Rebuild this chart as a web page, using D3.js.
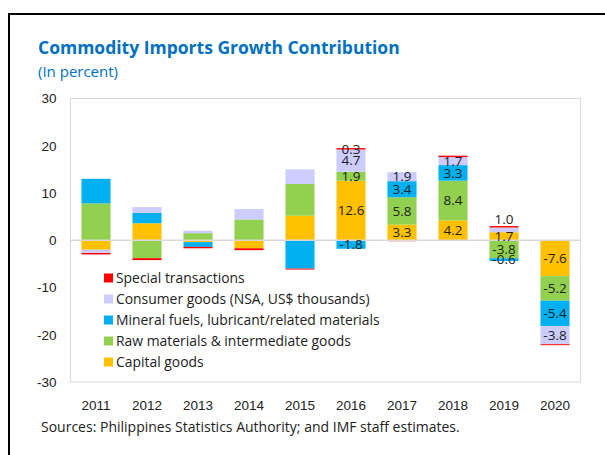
<!DOCTYPE html>
<html>
<head>
<meta charset="utf-8">
<script src="https://cdn.jsdelivr.net/npm/d3@7"></script>
<style>
  body { margin: 0; background: #fff; }
  svg { display: block; font-family: 'Open Sans', 'Noto Sans', sans-serif; }
</style>
</head>
<body>
<div id="chart"></div>
<script>
const years = ['2011', '2012', '2013', '2014', '2015', '2016', '2017', '2018', '2019', '2020']
const capitalGoods = [-2.0, 3.6, -0.4, -1.7, 5.2, 12.6, 3.3, 4.2, 1.7, -7.6]
const rawMaterials = [7.8, -3.8, 1.5, 4.4, 6.7, 1.9, 5.8, 8.4, -3.8, -5.2]
const mineralFuels = [5.2, 2.2, -1.0, 0.0, -6.0, -1.8, 3.4, 3.3, -0.6, -5.4]
const consumerGoods = [-0.7, 1.2, 0.5, 2.2, 3.1, 4.7, 1.9, 1.7, 1.0, -3.8]
const specialTrans = [-0.3, -0.4, -0.3, -0.4, -0.2, 0.3, -0.2, 0.3, 0.3, -0.2]
const yTicks = [-30, -20, -10, 0, 10, 20, 30]

const series = [
  { key: 'capital', name: 'Capital goods', values: capitalGoods, color: '#FFC000' },
  { key: 'raw', name: 'Raw materials & intermediate goods', values: rawMaterials, color: '#92D050' },
  { key: 'mineral', name: 'Mineral fuels, lubricant/related materials', values: mineralFuels, color: '#00B0F0' },
  { key: 'consumer', name: 'Consumer goods (NSA, US$ thousands)', values: consumerGoods, color: '#CCCCFF' },
  { key: 'special', name: 'Special transactions', values: specialTrans, color: '#FF0000' }
]

const rows = years.map((y, i) => {
  const r = { year: y }
  series.forEach(s => (r[s.key] = s.values[i]))
  return r
})

// plain hyphen minus, like the source chart
const fmt1 = v => d3.format('.1f')(v).replace('\u2212', '-')
const fmt0 = v => d3.format('d')(v).replace('\u2212', '-')

const W = 605, H = 455
const plot = { left: 70.5, right: 580.5, top: 98.5, bottom: 382 }

const svg = d3.select('#chart').append('svg').attr('width', W).attr('height', H)
svg.append('rect').attr('width', W).attr('height', H).attr('fill', '#fff')

// black frame (top + left only)
svg.append('path')
  .attr('d', `M9,${H} V14 H${W}`)
  .attr('fill', 'none').attr('stroke', '#000').attr('stroke-width', 2)

svg.append('text')
  .attr('x', 38).attr('y', 54)
  .attr('fill', '#0070C0').attr('font-size', 17.5).attr('font-weight', 'bold')
  .text('Commodity Imports Growth Contribution')
svg.append('text')
  .attr('x', 38).attr('y', 77)
  .attr('fill', '#0070C0').attr('font-size', 15)
  .text('(In percent)')

const x = d3.scaleBand().domain(years).range([plot.left, plot.right]).paddingInner(0.43).paddingOuter(0.215)
const y = d3.scaleLinear().domain([-30, 30]).range([plot.bottom, plot.top])

// plot border
svg.append('rect')
  .attr('x', plot.left).attr('y', plot.top)
  .attr('width', plot.right - plot.left).attr('height', plot.bottom - plot.top)
  .attr('fill', 'none').attr('stroke', '#d9d9d9')

// Y axis
const yAxis = svg.append('g')
  .attr('transform', `translate(${plot.left},0)`)
  .call(d3.axisLeft(y).tickValues(yTicks).tickSize(0).tickPadding(14).tickFormat(fmt0))
yAxis.select('.domain').remove()
yAxis.selectAll('text').attr('font-size', 13.5).attr('fill', '#222').attr('font-family', null)

// X axis labels
const xAxis = svg.append('g')
  .attr('transform', `translate(0,${plot.bottom})`)
  .call(d3.axisBottom(x).tickSize(0).tickPadding(18))
xAxis.select('.domain').remove()
xAxis.selectAll('text').attr('font-size', 13.5).attr('fill', '#222').attr('font-family', null)

// stacked bars
const stack = d3.stack()
  .keys(series.map(s => s.key))
  .offset(d3.stackOffsetDiverging)
const stacked = stack(rows)

svg.append('g').selectAll('g')
  .data(stacked)
  .join('g')
  .attr('fill', (d, i) => series[i].color)
  .selectAll('rect')
  .data(d => d)
  .join('rect')
  .attr('x', d => x(d.data.year))
  .attr('width', x.bandwidth())
  .attr('y', d => y(Math.max(d[0], d[1])))
  .attr('height', d => Math.abs(y(d[0]) - y(d[1])))

// zero line
svg.append('line')
  .attr('x1', plot.left).attr('x2', plot.right)
  .attr('y1', y(0)).attr('y2', y(0))
  .attr('stroke', '#d9d9d9').attr('stroke-width', 1.5)

// data labels (2016 onwards)
const labels = []
stacked.forEach(layer => {
  layer.forEach(d => {
    const yr = +d.data.year
    const v = d.data[layer.key]
    if (yr < 2016 || v === 0) return
    if (layer.key === 'special' && yr !== 2016) return
    const h = Math.abs(y(d[0]) - y(d[1]))
    let cy = (y(d[0]) + y(d[1])) / 2
    if (h < 6 && v > 0 && layer.key !== 'special') {
      // small positive segment: label sits above the bar
      const top = d3.min(stacked, l => y(l.find(e => e.data.year === d.data.year)[1]))
      cy = top - 7
    }
    labels.push({ x: x(d.data.year) + x.bandwidth() / 2, y: cy, text: fmt1(v) })
  })
})
svg.append('g').selectAll('text')
  .data(labels)
  .join('text')
  .attr('x', d => d.x).attr('y', d => d.y)
  .attr('dy', '0.35em')
  .attr('text-anchor', 'middle')
  .attr('font-size', 13.5).attr('fill', '#222')
  .text(d => d.text)

// legend
const legend = svg.append('g').attr('transform', 'translate(104,278)')
const legendItems = series.slice().reverse()
legendItems.forEach((s, i) => {
  const g = legend.append('g').attr('transform', `translate(0,${i * 21})`)
  g.append('rect').attr('x', 0).attr('y', -4.5).attr('width', 9).attr('height', 9).attr('fill', s.color)
  g.append('text').attr('x', 12).attr('y', 0).attr('dy', '0.35em')
    .attr('font-size', 13.9).attr('fill', '#222').text(s.name)
})

svg.append('text')
  .attr('x', 41).attr('y', 432)
  .attr('font-size', 14).attr('fill', '#222')
  .text('Sources: Philippines Statistics Authority; and IMF staff estimates.')
</script>
</body>
</html>
